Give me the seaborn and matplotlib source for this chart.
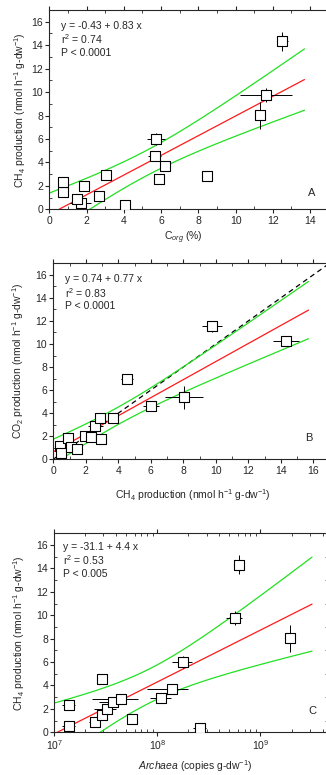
import numpy as np
import pandas as pd

import matplotlib
matplotlib.use("Agg")
import matplotlib.pyplot as plt
import seaborn as sns
from matplotlib.ticker import MultipleLocator

sns.set_theme(style="ticks", rc={"axes.linewidth": 0.8})
plt.rcParams["font.family"] = ["Liberation Sans", "DejaVu Sans"]
plt.rcParams["mathtext.fontset"] = "custom"
plt.rcParams["mathtext.rm"] = "Liberation Sans"
plt.rcParams["mathtext.it"] = "Liberation Sans:italic"

# one entry per soil sample, sorted by CH4 production
ch4 = [0.4, 0.5, 0.9, 1.1, 1.45, 1.95, 2.3, 2.58, 2.87, 2.95, 3.68, 4.53, 6.0, 8.03, 9.75, 14.32]
ch4_err = [0.15, 0.15, 0.15, 0.15, 0.15, 0.2, 0.2, 0.45, 0.2, 0.2, 0.2, 0.35, 0.5, 1.15, 0.6, 0.8]
corg = [4.08, 1.68, 1.5, 2.65, 0.75, 1.86, 0.75, 5.9, 8.48, 3.04, 6.23, 5.67, 5.72, 11.3, 11.63, 12.5]
corg_err = [0.1, 0.55, 0.3, 0.15, 0.1, 0.1, 0.1, 0.1, 0.1, 0.1, 0.1, 0.35, 0.5, 0.1, 1.4, 0.3]
co2 = [1.15, 0.52, 1.82, 1.1, 0.9, 2.02, 1.96, 2.9, 3.6, 1.73, 3.54, 6.92, 4.64, 5.36, 11.53, 10.23]
co2_err = [0.2, 0.2, 0.2, 0.2, 0.2, 0.2, 0.2, 0.2, 0.2, 0.2, 0.2, 0.2, 0.3, 1.0, 0.5, 0.2]
archaea = [2.58e8, 1.39e7, 2.48e7, 5.7e7, 2.88e7, 3.21e7, 1.39e7, 3.73e7, 4.43e7, 1.09e8,
           1.39e8, 2.88e7, 1.78e8, 1.92e9, 5.64e8, 6.2e8]
archaea_err = [3.6e7, 2e6, 3e6, 4e6, 2e6, 8e6, 2e6, 1e7, 2.1e7, 2.5e7,
               5.9e7, 2e6, 4e7, 5e7, 1e8, 4e7]

stats_text = {
    "A": ["y = -0.43 + 0.83 x", "r$^2$ = 0.74", "P < 0.0001"],
    "B": ["y = 0.74 + 0.77 x", "r$^2$ = 0.83", "P < 0.0001"],
    "C": ["y = -31.1 + 4.4 x", "r$^2$ = 0.53", "P < 0.005"],
}

df = pd.DataFrame({"ch4": ch4, "ch4_err": ch4_err, "corg": corg, "corg_err": corg_err,
                   "co2": co2, "co2_err": co2_err, "archaea": archaea, "archaea_err": archaea_err})

RED = "#ff1a1a"
GREEN = "#22e022"
FS = 7.5
T975 = 2.145  # t(0.975, df=14)


def fit_with_band(x, y, xgrid):
    x = np.asarray(x, float)
    y = np.asarray(y, float)
    n = len(x)
    b, a = np.polyfit(x, y, 1)
    resid = y - (a + b * x)
    s = np.sqrt(np.sum(resid ** 2) / (n - 2))
    sxx = np.sum((x - x.mean()) ** 2)
    yfit = a + b * xgrid
    half = T975 * s * np.sqrt(1.0 / n + (xgrid - x.mean()) ** 2 / sxx)
    return yfit, yfit - half, yfit + half


def draw_points(ax, x, y, xerr, yerr):
    ax.errorbar(df[x], df[y], xerr=df[xerr], yerr=df[yerr], fmt="none",
                ecolor="black", elinewidth=0.7, capsize=0, zorder=3)
    sns.scatterplot(data=df, x=x, y=y, marker="s", s=42, color="white",
                    edgecolor="black", linewidth=0.8, zorder=4, ax=ax)


def style_axes(ax, letter, text_pos, letter_pos):
    ax.tick_params(which="major", direction="out", length=3, width=0.8, labelsize=FS, pad=1.5,
                   top=True, right=True)
    ax.tick_params(which="minor", direction="in", length=2, width=0.6, top=True, right=True)
    ax.tick_params(axis="both", which="both", labeltop=False, labelright=False)
    for i, line in enumerate(stats_text[letter]):
        ax.text(text_pos[0], text_pos[1] - i * 0.068, line, transform=ax.transAxes,
                fontsize=FS, va="center", ha="left")
    ax.text(letter_pos[0], letter_pos[1], letter, transform=ax.transAxes,
            fontsize=FS + 0.5, va="center", ha="center")


fig = plt.figure(figsize=(3.26, 7.75), dpi=100)
axA = fig.add_axes([0.1512, 0.7299, 0.857, 0.2572])
axB = fig.add_axes([0.1635, 0.4074, 0.8476, 0.2529])
axC = fig.add_axes([0.1666, 0.0551, 0.839, 0.2568])

ylab = "CH$_4$ production (nmol h$^{-1}$ g-dw$^{-1}$)"

# panel A: CH4 vs Corg
xg = np.linspace(0, 13.7, 200)
yf, lo, hi = fit_with_band(df["corg"], df["ch4"], xg)
sns.lineplot(x=xg, y=yf, color=RED, lw=0.9, ax=axA, zorder=2)
sns.lineplot(x=xg, y=lo, color=GREEN, lw=0.9, ax=axA, zorder=2)
sns.lineplot(x=xg, y=hi, color=GREEN, lw=0.9, ax=axA, zorder=2)
draw_points(axA, "corg", "ch4", "corg_err", "ch4_err")
axA.set_xlim(0, 15)
axA.set_ylim(0, 17)
axA.xaxis.set_major_locator(MultipleLocator(2))
axA.xaxis.set_minor_locator(MultipleLocator(1))
axA.yaxis.set_major_locator(MultipleLocator(2))
axA.yaxis.set_minor_locator(MultipleLocator(1))
axA.set_xlabel("C$_{org}$ (%)", fontsize=FS)
axA.set_ylabel(ylab, fontsize=FS)
axA.xaxis.set_label_coords(0.48, -0.144)
axA.yaxis.set_label_coords(-0.105, 0.5)
style_axes(axA, "A", (0.042, 0.92), (0.94, 0.082))

# panel B: CO2 vs CH4
xg = np.linspace(0, 15.7, 200)
yf, lo, hi = fit_with_band(df["ch4"], df["co2"], xg)
one = np.array([0, 17])
sns.lineplot(x=one, y=one, color="black", lw=0.9, ax=axB, zorder=2,
             linestyle=(0, (4, 3)))
sns.lineplot(x=xg, y=yf, color=RED, lw=0.9, ax=axB, zorder=2)
sns.lineplot(x=xg, y=lo, color=GREEN, lw=0.9, ax=axB, zorder=2)
sns.lineplot(x=xg, y=hi, color=GREEN, lw=0.9, ax=axB, zorder=2)
draw_points(axB, "ch4", "co2", "ch4_err", "co2_err")
axB.set_xlim(0, 17)
axB.set_ylim(0, 17)
for a in (axB.xaxis, axB.yaxis):
    a.set_major_locator(MultipleLocator(2))
    a.set_minor_locator(MultipleLocator(1))
axB.set_xlabel(ylab, fontsize=FS)
axB.set_ylabel("CO$_2$ production (nmol h$^{-1}$ g-dw$^{-1}$)", fontsize=FS)
axB.xaxis.set_label_coords(0.506, -0.182)
axB.yaxis.set_label_coords(-0.128, 0.5)
style_axes(axB, "B", (0.042, 0.918), (0.925, 0.109))

# panel C: CH4 vs Archaea (log)
lg = np.linspace(7, 9.5, 200)
yf, lo, hi = fit_with_band(np.log10(df["archaea"]), df["ch4"], lg)
sns.lineplot(x=10 ** lg, y=yf, color=RED, lw=0.9, ax=axC, zorder=2)
sns.lineplot(x=10 ** lg, y=lo, color=GREEN, lw=0.9, ax=axC, zorder=2)
sns.lineplot(x=10 ** lg, y=hi, color=GREEN, lw=0.9, ax=axC, zorder=2)
draw_points(axC, "archaea", "ch4", "archaea_err", "ch4_err")
axC.set_xscale("log")
axC.set_xlim(1e7, 4.5e9)
axC.set_ylim(0, 17)
axC.yaxis.set_major_locator(MultipleLocator(2))
axC.yaxis.set_minor_locator(MultipleLocator(1))
axC.set_xlabel("$\\it{Archaea}$ (copies g-dw$^{-1}$)", fontsize=FS)
axC.set_ylabel(ylab, fontsize=FS)
axC.xaxis.set_label_coords(0.514, -0.172)
axC.yaxis.set_label_coords(-0.129, 0.5)
style_axes(axC, "C", (0.031, 0.933), (0.942, 0.107))

for ax in (axA, axB, axC):
    ax.xaxis.label.set_va("center")
    ax.yaxis.label.set_va("center")

fig.savefig("out.png", dpi=100)
